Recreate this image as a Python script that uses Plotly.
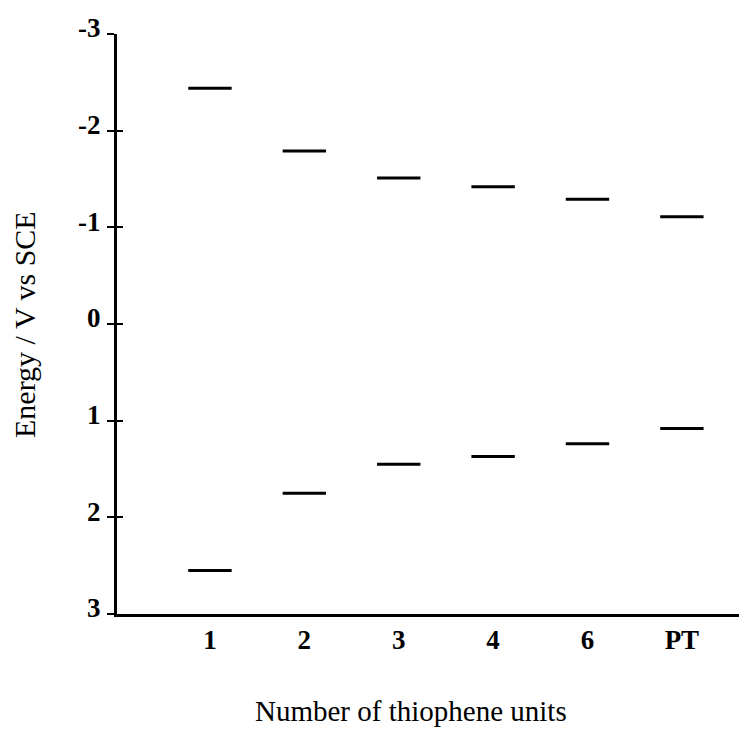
import plotly.graph_objects as go

categories = ["1", "2", "3", "4", "6", "PT"]
lumo = [-2.44, -1.79, -1.51, -1.42, -1.29, -1.11]
homo = [2.55, 1.75, 1.45, 1.37, 1.24, 1.08]
y_ticks = [-3, -2, -1, 0, 1, 2, 3]

xpos = list(range(len(categories)))
font_family = "Liberation Serif, Times New Roman, serif"

fig = go.Figure()
for vals in (lumo, homo):
    fig.add_trace(go.Scatter(
        x=xpos, y=vals, mode="markers",
        marker=dict(symbol="line-ew", size=31, color="black",
                    line=dict(width=3, color="black")),
        showlegend=False, hoverinfo="skip"))

# invisible trace on y2 to activate the overlay axis (inside half of the crossing ticks)
fig.add_trace(go.Scatter(x=[xpos[0]], y=[0], yaxis="y2", mode="markers",
                         marker=dict(opacity=0), showlegend=False, hoverinfo="skip"))

fig.update_layout(
    width=739, height=736,
    margin=dict(l=109, r=0, t=26, b=130),
    paper_bgcolor="white", plot_bgcolor="white",
    font=dict(family=font_family, color="black"),
    xaxis=dict(
        range=[-0.985, 5.69], tickmode="array", tickvals=xpos, ticktext=categories,
        showgrid=False, zeroline=False, showline=True, linewidth=3, linecolor="black",
        ticks="", tickfont=dict(size=27, family=font_family, weight="bold"),
    ),
    yaxis=dict(
        range=[3, -3], tickmode="array", tickvals=y_ticks,
        ticktext=[str(v) for v in y_ticks],
        showgrid=False, zeroline=False, showline=True, linewidth=3, linecolor="black",
        ticks="outside", ticklen=7, tickwidth=2, tickcolor="black",
        tickfont=dict(size=27, family=font_family, weight="bold"),
        ticklabelshift=6, ticklabelstandoff=1,
    ),
    yaxis2=dict(
        range=[3, -3], overlaying="y", side="left", tickmode="array", tickvals=y_ticks,
        showticklabels=False, showgrid=False, zeroline=False, showline=False,
        ticks="inside", ticklen=6, tickwidth=2, tickcolor="black",
    ),
    annotations=[
        dict(text="Number of thiophene units", xref="paper", yref="paper",
             x=(411 - 117) / 630, y=-(711 - 614) / 580, showarrow=False,
             font=dict(size=29, family=font_family), xanchor="center", yanchor="middle"),
        dict(text="Energy / V vs SCE", xref="paper", yref="paper",
             x=-(117 - 25) / 630, y=(614 - 325) / 580, showarrow=False, textangle=-90,
             font=dict(size=30, family=font_family), xanchor="center", yanchor="middle"),
    ],
)

fig.write_html("out.html")
